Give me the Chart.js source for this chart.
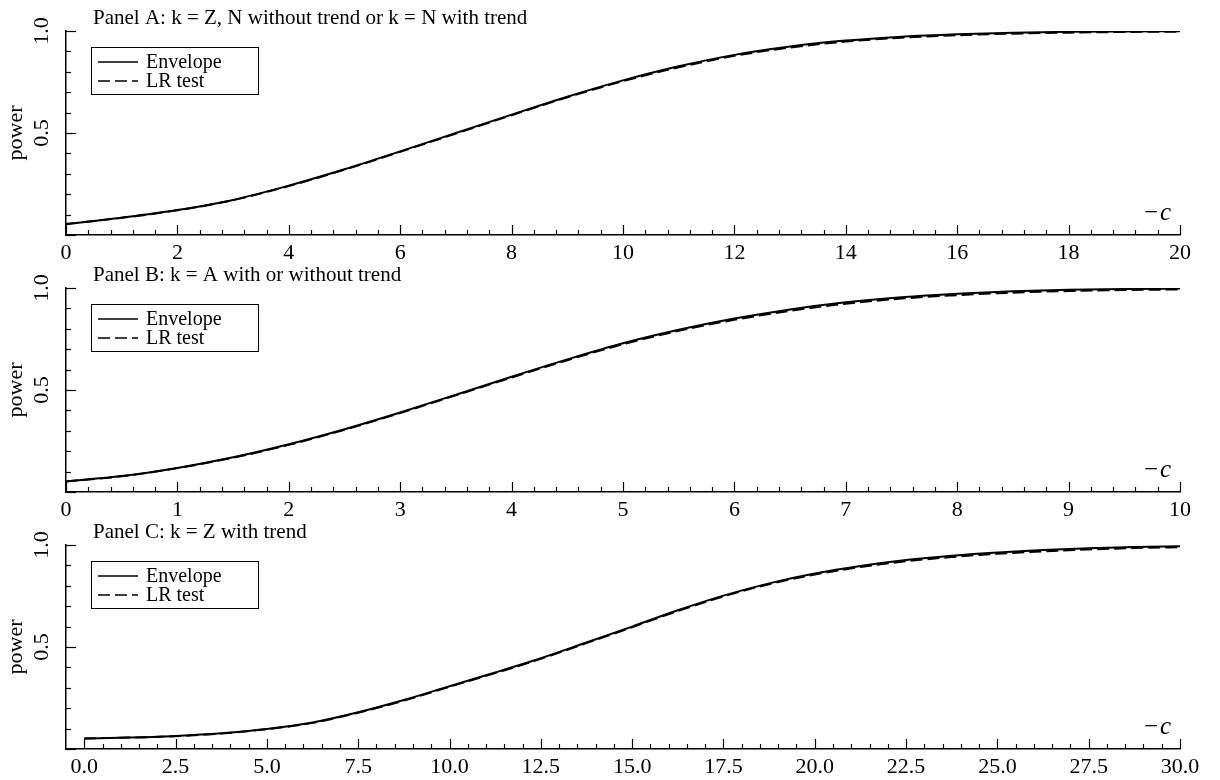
<!DOCTYPE html>
<html>
<head>
<meta charset="utf-8">
<script src="https://cdn.jsdelivr.net/npm/chart.js@4.4.1/dist/chart.umd.min.js"></script>
<style>
  html, body { margin: 0; padding: 0; background: #fff; overflow: hidden; }
  #wrap { position: relative; width: 1220px; height: 780px; }
  .panel { position: absolute; left: 0; width: 1220px; height: 272px; }
</style>
</head>
<body>
<div id="wrap">
  <div class="panel" style="top:0px"><canvas id="chartA" width="1220" height="272"></canvas></div>
  <div class="panel" style="top:257px"><canvas id="chartB" width="1220" height="272"></canvas></div>
  <div class="panel" style="top:514px"><canvas id="chartC" width="1220" height="272"></canvas></div>
</div>
<script>
// panel titles
const titleA = "Panel A: k = Z, N without trend or k = N with trend";
const titleB = "Panel B: k = A with or without trend";
const titleC = "Panel C: k = Z with trend";

// -c values and power curves
const cA = [0, 1, 2, 3, 4, 5, 6, 7, 8, 9, 10, 11, 12, 13, 14, 15, 16, 17, 18, 19, 20];
const envA = [0.054, 0.085, 0.122, 0.172, 0.242, 0.322, 0.410, 0.500, 0.590, 0.678, 0.758,
              0.827, 0.883, 0.924, 0.953, 0.972, 0.984, 0.992, 0.996, 0.998, 0.999];
const lrA = [0.054, 0.084, 0.121, 0.171, 0.240, 0.320, 0.408, 0.497, 0.587, 0.675, 0.754,
             0.822, 0.878, 0.919, 0.948, 0.967, 0.979, 0.987, 0.992, 0.995, 0.997];

const cB = [0, 0.5, 1, 1.5, 2, 2.5, 3, 3.5, 4, 4.5, 5, 5.5, 6, 6.5, 7, 7.5, 8, 8.5, 9, 9.5, 10];
const envB = [0.052, 0.078, 0.118, 0.170, 0.234, 0.308, 0.390, 0.477, 0.565, 0.650, 0.729,
              0.795, 0.850, 0.895, 0.930, 0.955, 0.972, 0.984, 0.991, 0.995, 0.997];
const lrB = [0.052, 0.077, 0.117, 0.168, 0.231, 0.305, 0.387, 0.474, 0.561, 0.646, 0.724,
             0.790, 0.844, 0.888, 0.923, 0.948, 0.965, 0.977, 0.985, 0.990, 0.993];

const cC = [0, 1.25, 2.5, 3.75, 5, 6.25, 7.5, 8.75, 10, 11.25, 12.5, 13.75, 15, 16.25, 17.5,
            18.75, 20, 21.25, 22.5, 23.75, 25, 26.25, 27.5, 28.75, 30];
const envC = [0.052, 0.056, 0.064, 0.077, 0.098, 0.130, 0.180, 0.240, 0.308, 0.375, 0.445, 0.522,
              0.600, 0.680, 0.752, 0.812, 0.860, 0.897, 0.926, 0.947, 0.963, 0.975, 0.984, 0.990, 0.994];
const lrC = [0.052, 0.056, 0.063, 0.076, 0.097, 0.128, 0.178, 0.237, 0.305, 0.372, 0.442, 0.519,
             0.597, 0.676, 0.748, 0.808, 0.855, 0.892, 0.920, 0.941, 0.957, 0.969, 0.978, 0.985, 0.989];

const seriesNames = ["Envelope", "LR test"];

Chart.defaults.font.family = "'Liberation Serif', 'Times New Roman', serif";
Chart.defaults.color = "#000";

// inward ticks, panel title, "-c" label and boxed legend
const decor = {
    id: "decor",
    afterDatasetsDraw(chart, args, opts) {
        const ctx = chart.ctx;
        const area = chart.chartArea;
        const xs = chart.scales.x, ys = chart.scales.y;
        ctx.save();
        ctx.strokeStyle = "#000";
        ctx.lineWidth = 1.2;

        // x ticks pointing up
        const nx = Math.round((opts.xTo - opts.xFrom) / opts.xMinor);
        for (let i = 0; i <= nx; i++) {
            const v = opts.xFrom + i * opts.xMinor;
            const px = Math.round(xs.getPixelForValue(v)) + 0.5;
            const len = (i % opts.xEvery === 0) ? 10 : 5;
            ctx.beginPath();
            ctx.moveTo(px, area.bottom);
            ctx.lineTo(px, area.bottom - len);
            ctx.stroke();
        }
        // y ticks pointing right
        for (let i = 0; i <= 10; i++) {
            const py = Math.round(ys.getPixelForValue(i / 10)) + 0.5;
            const len = (i % 5 === 0) ? 10 : 5;
            ctx.beginPath();
            ctx.moveTo(area.left, py);
            ctx.lineTo(area.left + len, py);
            ctx.stroke();
        }

        // panel title
        ctx.fillStyle = "#000";
        ctx.font = "21px 'Liberation Serif'";
        ctx.textBaseline = "middle";
        ctx.textAlign = "left";
        ctx.fillText(opts.title, area.left + 27, area.top - 13);

        // -c axis name
        ctx.font = "italic 25px 'Liberation Serif'";
        ctx.textAlign = "right";
        ctx.fillText("c", area.right - 9, area.bottom - 22);
        ctx.font = "25px 'Liberation Serif'";
        ctx.fillText("\u2212", area.right - 22, area.bottom - 22);

        // legend box
        const bx = area.left + 25, by = area.top + 16;
        ctx.lineWidth = 1;
        ctx.strokeRect(bx + 0.5, by + 0.5, 167, 47);
        ctx.font = "20px 'Liberation Serif'";
        ctx.textAlign = "left";
        chart.data.datasets.forEach((ds, i) => {
            const ly = by + 15 + i * 19;
            ctx.beginPath();
            ctx.lineWidth = 1.5;
            ctx.setLineDash(ds.borderDash || []);
            ctx.moveTo(bx + 7, ly);
            ctx.lineTo(bx + 47, ly);
            ctx.stroke();
            ctx.setLineDash([]);
            ctx.fillText(ds.label, bx + 55, ly + 1);
        });
        ctx.restore();
    }
};

function toPoints(xs, ys) {
    return xs.map((x, i) => ({ x: x, y: ys[i] }));
}

function drawPanel(id, title, c, env, lr, xMin, xMax, xStep, xMinor, decimals) {
    const ctx = document.getElementById(id).getContext("2d");
    new Chart(ctx, {
        type: "line",
        data: {
            datasets: [
                {
                    label: seriesNames[0],
                    data: toPoints(c, env),
                    borderColor: "#000",
                    borderWidth: 2,
                    pointRadius: 0,
                    cubicInterpolationMode: "monotone"
                },
                {
                    label: seriesNames[1],
                    data: toPoints(c, lr),
                    borderColor: "#000",
                    borderWidth: 2,
                    borderDash: [12, 5],
                    pointRadius: 0,
                    cubicInterpolationMode: "monotone"
                }
            ]
        },
        options: {
            responsive: false,
            animation: false,
            layout: { padding: { top: 31, right: 40, left: 0, bottom: 0 } },
            scales: {
                x: {
                    type: "linear",
                    min: xMin,
                    max: xMax,
                    afterFit: (s) => { s.height = 37; },
                    grid: { display: false },
                    border: { color: "#000", width: 1.5 },
                    ticks: {
                        stepSize: xStep,
                        includeBounds: false,
                        autoSkip: false,
                        maxRotation: 0,
                        padding: -3,
                        font: { size: 22 },
                        callback: (v) => v.toFixed(decimals)
                    }
                },
                y: {
                    type: "linear",
                    min: 0,
                    max: 1,
                    afterFit: (s) => { s.width = 66; },
                    grid: { display: false },
                    border: { color: "#000", width: 1.5 },
                    ticks: {
                        stepSize: 0.5,
                        minRotation: 90,
                        maxRotation: 90,
                        crossAlign: "center",
                        padding: 2,
                        font: { size: 22 },
                        callback: (v) => v === 0 ? "" : v.toFixed(1)
                    },
                    title: {
                        display: true,
                        text: "power",
                        font: { size: 22 },
                        padding: { top: 3, bottom: 0 }
                    }
                }
            },
            plugins: {
                legend: { display: false },
                tooltip: { enabled: false },
                decor: {
                    title: title,
                    xFrom: 0,
                    xTo: xMax,
                    xMinor: xMinor,
                    xEvery: Math.round(xStep / xMinor)
                }
            }
        },
        plugins: [decor]
    });
}

drawPanel("chartA", titleA, cA, envA, lrA, 0, 20, 2, 0.4, 0);
drawPanel("chartB", titleB, cB, envB, lrB, 0, 10, 1, 0.2, 0);
drawPanel("chartC", titleC, cC, envC, lrC, -0.5, 30, 2.5, 0.5, 1);
</script>
</body>
</html>
